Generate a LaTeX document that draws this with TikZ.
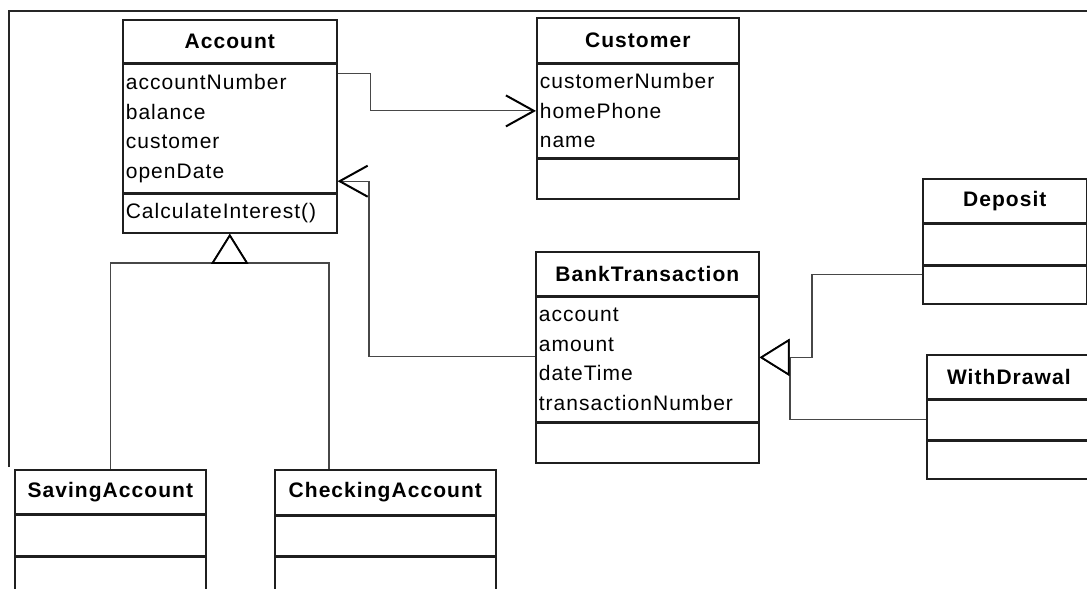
\documentclass[tikz,border=0pt]{standalone}
\usepackage{fontspec}
\setmainfont[LetterSpace=5]{Liberation Sans}
\usetikzlibrary{arrows.meta}

\tikzset{
  boxline/.style={draw=black!88, line width=1.6pt},
  hdr/.style={boxline, anchor=north west, inner sep=0pt,
    font=\fontsize{21}{25}\selectfont\bfseries},
  comp/.style={boxline, anchor=north west, inner ysep=0pt, inner xsep=3pt,
    align=left, font=\fontsize{21}{29.5}\selectfont},
  conn/.style={draw=black!72, line width=1.1pt},
  assoc/.style={conn, -{Straight Barb[length=28pt, width=31pt, line width=2pt, color=black]}},
  gen/.style={conn, -{Triangle[length=30pt, width=37pt, line width=1.8pt, color=black, fill=white]}},
  frameline/.style={draw=black!85, line width=1.4pt}
}

\begin{document}
\begin{tikzpicture}[x=1pt, y=-1pt]
\useasboundingbox (0,0) rectangle (1087,589);
\clip (0,0) rectangle (1087,589);

% outer frame (top and left edges)
\draw[frameline] (9,467) -- (9,11) -- (1090,11);

% Account
\node[hdr, minimum width=214pt, minimum height=43pt] (acc-h) at (122,19) {Account};
\node[comp, text width=208pt, minimum height=128pt] (acc-a) at (acc-h.south west)
  {accountNumber\\balance\\customer\\openDate};
\node[comp, text width=208pt, minimum height=39pt] (acc-m) at (acc-a.south west)
  {CalculateInterest()};

% Customer
\node[hdr, minimum width=202pt, minimum height=45pt] (cus-h) at (536,17) {Customer};
\node[comp, text width=196pt, minimum height=93pt] (cus-a) at (cus-h.south west)
  {customerNumber\\homePhone\\name};
\node[comp, text width=196pt, minimum height=40pt] (cus-m) at (cus-a.south west) {};

% BankTransaction
\node[hdr, minimum width=223pt, minimum height=44pt] (bt-h) at (535,251) {BankTransaction};
\node[comp, text width=217pt, minimum height=124pt] (bt-a) at (bt-h.south west)
  {account\\amount\\dateTime\\transactionNumber};
\node[comp, text width=217pt, minimum height=40pt] (bt-m) at (bt-a.south west) {};

% Deposit
\node[hdr, minimum width=164pt, minimum height=44pt] (dep-h) at (922,178) {Deposit};
\node[comp, text width=158pt, minimum height=40pt] (dep-a) at (dep-h.south west) {};
\node[comp, text width=158pt, minimum height=38pt] (dep-m) at (dep-a.south west) {};

% WithDrawal
\node[hdr, minimum width=164pt, minimum height=44pt] (wd-h) at (926,354) {WithDrawal};
\node[comp, text width=158pt, minimum height=39pt] (wd-a) at (wd-h.south west) {};
\node[comp, text width=158pt, minimum height=38pt] (wd-m) at (wd-a.south west) {};

% SavingAccount
\node[hdr, minimum width=191pt, minimum height=44pt] (sav-h) at (14,469) {SavingAccount};
\node[comp, text width=185pt, minimum height=40pt] (sav-a) at (sav-h.south west) {};
\node[comp, text width=185pt, minimum height=50pt] (sav-m) at (sav-a.south west) {};

% CheckingAccount
\node[hdr, minimum width=221pt, minimum height=45pt] (chk-h) at (274,469) {CheckingAccount};
\node[comp, text width=215pt, minimum height=39pt] (chk-a) at (chk-h.south west) {};
\node[comp, text width=215pt, minimum height=50pt] (chk-m) at (chk-a.south west) {};

% connector end points
\coordinate (accOut) at ([yshift=-10pt]acc-a.north east);
\coordinate (accIn)  at ([yshift=12pt]acc-a.south east);
\coordinate (chkTop) at ([xshift=55pt]chk-h.north west);
\coordinate (depIn)  at ([yshift=-9pt]dep-m.north west);
\coordinate (btOut)  at ([yshift=3pt]bt-a.west);
\coordinate (btIn)   at ([yshift=2pt]bt-a.east);

% associations
\draw[assoc] (accOut) -- ++(33,0) |- (cus-a.west);
\draw[assoc] (btOut) -- ++(-166,0) |- (accIn);

% generalizations
\draw[gen] (sav-h.north) -- ++(0,-206) -| (acc-m.south);
\draw[gen] (chkTop) -- ++(0,-206) -| (acc-m.south);
\draw[gen] (depIn) -- ++(-110,0) |- (btIn);
\draw[gen] (wd-a.west) -- ++(-136,0) |- (btIn);
\end{tikzpicture}
\end{document}
